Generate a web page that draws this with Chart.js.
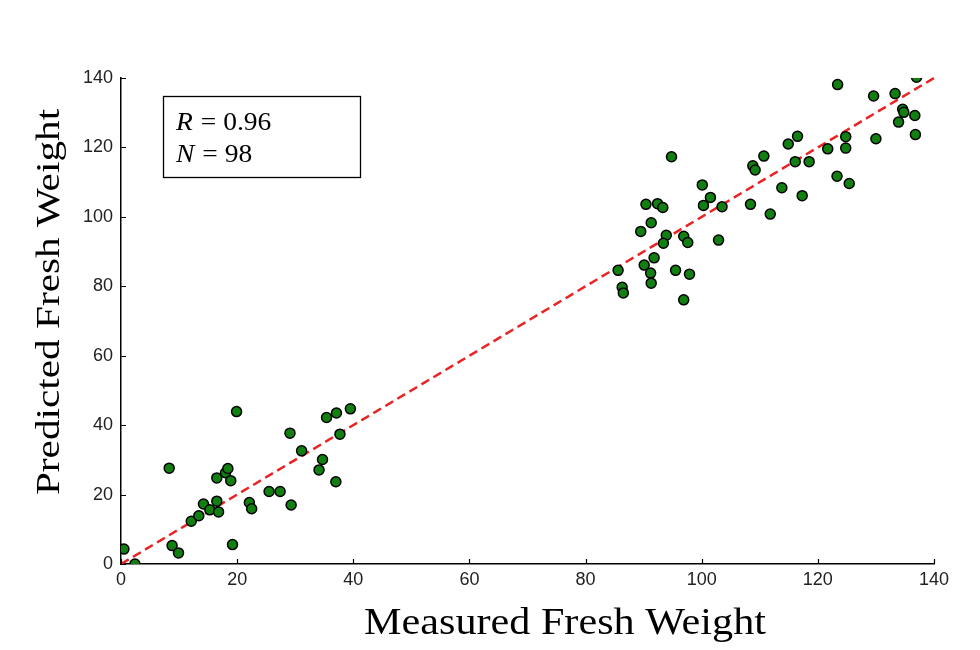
<!DOCTYPE html>
<html>
<head>
<meta charset="utf-8">
<script src="https://cdn.jsdelivr.net/npm/chart.js@4/dist/chart.umd.min.js"></script>
<style>
html,body{margin:0;padding:0;background:#fff;}
canvas{display:block;}
</style>
</head>
<body>
<canvas id="c" width="980" height="650"></canvas>
<script>
// ---- data ----
const measuredLow = [0.5,2.4,8.3,8.8,9.9,12.1,13.4,14.2,15.3,16.5,16.8,16.5,18.0,18.4,18.9,19.2,19.9,22.1,22.5,25.5,27.4,29.1,29.3,31.1,34.1,34.7,35.4,37.1,37.0,37.7,39.5];
const predictedLow = [4.3,0,27.6,5.3,3.2,12.3,13.9,17.3,15.6,18.1,15.0,24.8,26.3,27.5,24.0,5.6,43.9,17.7,15.9,20.9,20.9,37.7,17.0,32.6,27.1,30.1,42.2,43.5,23.7,37.4,44.7];
const measuredHigh = [94.8,100.1,101.5,100.3,103.5,90.4,92.4,93.3,91.3,89.5,93.9,93.4,96.9,97.6,102.9,91.8,90.1,91.2,91.3,95.5,97.9,85.6,86.3,86.5,96.9,108.4,108.8,109.2,110.7,111.8,
  123.4,129.6,133.3,137.0,134.6,134.8,136.7,133.9,136.8,130.0,124.8,124.8,121.7,116.5,114.9,116.1,118.5,113.8,117.3,123.3,125.4];
const predictedHigh = [117.3,109.2,105.6,103.3,102.9,103.6,103.8,102.7,98.3,95.8,94.7,92.4,94.4,92.6,93.3,88.2,86.1,83.8,80.9,84.6,83.5,84.6,79.7,78.1,76.1,103.6,114.7,113.5,117.5,100.8,
  138.1,134.8,135.5,140.2,131.0,130.1,129.2,127.3,123.7,122.5,123.1,119.8,119.6,123.2,121.0,115.9,115.9,108.4,106.1,111.7,109.6];
const identityX = [0, 140];
const identityY = [0, 140];
const xTicks = [0,20,40,60,80,100,120,140];
const yTicks = [0,20,40,60,80,100,120,140];
const statR = "0.96";
const statN = "98";
const xTitle = "Measured Fresh Weight";
const yTitle = "Predicted Fresh Weight";

const measured = measuredLow.concat(measuredHigh);
const predicted = predictedLow.concat(predictedHigh);
const points = measured.map((x,i)=>({x:x, y:predicted[i]}));
const lineData = identityX.map((x,i)=>({x:x, y:identityY[i]}));

const tickFont = {family:"'Liberation Sans', Arial, sans-serif", size:18};

const decor = {
  id:'decor',
  afterDraw(chart){
    const ctx = chart.ctx, ca = chart.chartArea;
    const xs = chart.scales.x, ys = chart.scales.y;
    ctx.save();
    // inward ticks
    ctx.strokeStyle = '#000'; ctx.lineWidth = 1.2;
    ctx.beginPath();
    xTicks.forEach(v=>{ const px = Math.round(xs.getPixelForValue(v))+0.5; ctx.moveTo(px, ca.bottom); ctx.lineTo(px, ca.bottom-5); });
    yTicks.forEach(v=>{ const py = Math.round(ys.getPixelForValue(v))+0.5; ctx.moveTo(ca.left, py); ctx.lineTo(ca.left+5, py); });
    ctx.stroke();
    // x title
    ctx.fillStyle = '#000';
    ctx.font = "37px 'Liberation Serif', 'Times New Roman', serif";
    ctx.textAlign = 'center'; ctx.textBaseline = 'alphabetic';
    ctx.save();
    ctx.translate(565, 634);
    ctx.scale(1.14, 1);
    ctx.fillText(xTitle, 0, 0);
    ctx.restore();
    // y title
    ctx.save();
    ctx.translate(59, 302);
    ctx.rotate(-Math.PI/2);
    ctx.scale(1.25, 1.05);
    ctx.font = "33px 'Liberation Serif', 'Times New Roman', serif";
    ctx.fillText(yTitle, 0, 0);
    ctx.restore();
    // stats box
    const bx = ca.left + 42, by = ca.top + 18;
    ctx.lineWidth = 1.3; ctx.strokeStyle = '#000';
    ctx.strokeRect(bx+0.5, by+0.5, 197, 81);
    ctx.textAlign = 'left';
    const drawStat = (letter, val, baseY) => {
      ctx.save();
      ctx.translate(bx + 13, baseY);
      ctx.scale(1.1, 1);
      ctx.font = "italic 25px 'Liberation Serif', 'Times New Roman', serif";
      ctx.fillText(letter, 0, 0);
      const w = ctx.measureText(letter).width;
      ctx.font = "25px 'Liberation Serif', 'Times New Roman', serif";
      ctx.fillText(" = " + val, w + 1, 0);
      ctx.restore();
    };
    drawStat('R', statR, by + 34);
    drawStat('N', statN, by + 66);
    ctx.restore();
  }
};

new Chart(document.getElementById('c'), {
  type: 'scatter',
  data: {
    datasets: [
      {
        type:'line',
        data: lineData,
        borderColor:'#ea2323',
        borderWidth:2.5,
        borderDash:[9,5],
        pointRadius:0,
        fill:false,
        clip:false,
        order:2
      },
      {
        data: points,
        backgroundColor:'#118011',
        borderColor:'#000',
        borderWidth:1.5,
        pointRadius:5,
        pointHoverRadius:5,
        clip:0,
        order:1
      }
    ]
  },
  options: {
    responsive:false,
    animation:false,
    events:[],
    layout:{ padding:{ top:78, right:46, left:0, bottom:0 }, autoPadding:false },
    plugins:{ legend:{display:false}, tooltip:{enabled:false} },
    scales:{
      x:{
        type:'linear', min:0, max:140,
        afterBuildTicks(s){ s.ticks = xTicks.map(v=>({value:v})); },
        afterFit(s){ s.height = 86; },
        grid:{ display:false, drawTicks:false },
        border:{ display:true, color:'#000', width:1.5 },
        ticks:{ font:tickFont, color:'#222', padding:5, maxRotation:0 }
      },
      y:{
        type:'linear', min:0, max:140,
        afterBuildTicks(s){ s.ticks = yTicks.map(v=>({value:v})); },
        afterFit(s){ s.width = 121; },
        grid:{ display:false, drawTicks:false },
        border:{ display:true, color:'#000', width:1.5 },
        ticks:{ font:tickFont, color:'#222', padding:8 }
      }
    }
  },
  plugins:[decor]
});
</script>
</body>
</html>
